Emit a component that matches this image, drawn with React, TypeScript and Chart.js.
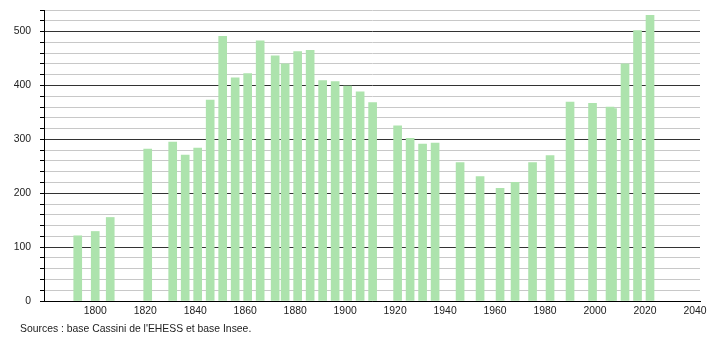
import React, { useEffect, useRef } from "react";
import { Chart, registerables } from "chart.js";

Chart.register(...registerables);

const years = [1793, 1800, 1806, 1821, 1831, 1836, 1841, 1846, 1851, 1856, 1861, 1866, 1872, 1876, 1881, 1886, 1891, 1896, 1901, 1906, 1911, 1921, 1926, 1931, 1936, 1946, 1954, 1962, 1968, 1975, 1982, 1990, 1999, 2006, 2007, 2012, 2017, 2022];
const population = [121, 129, 155, 282, 295, 271, 284, 373, 491, 414, 422, 483, 455, 440, 463, 465, 409, 407, 399, 388, 368, 325, 302, 291, 293, 257, 231, 209, 220, 257, 270, 369, 367, 360, 357, 440, 502, 530];
const xTickValues = [1800, 1820, 1840, 1860, 1880, 1900, 1920, 1940, 1960, 1980, 2000, 2020, 2040];
const yTickValues = [0, 20, 40, 60, 80, 100, 120, 140, 160, 180, 200, 220, 240, 260, 280, 300, 320, 340, 360, 380, 400, 420, 440, 460, 480, 500, 520, 540];
const sourceText = "Sources : base Cassini de l'EHESS et base Insee.";

const FONT = "'Liberation Sans', Arial, sans-serif";

export default function App() {
  const canvasRef = useRef<HTMLCanvasElement | null>(null);

  useEffect(() => {
    if (!canvasRef.current) return;
    const chart = new Chart(canvasRef.current, {
      type: "bar",
      data: {
        datasets: [
          {
            data: years.map((yr, i) => ({ x: yr, y: population[i] })),
            backgroundColor: "#ade3ad",
            borderWidth: 0,
            barThickness: 8,
          } as any,
        ],
      },
      options: {
        animation: false,
        responsive: true,
        maintainAspectRatio: false,
        layout: { padding: { top: 10, right: 10, bottom: 0, left: 0 } },
        plugins: {
          legend: { display: false },
          tooltip: { enabled: false },
          title: { display: false },
        },
        scales: {
          x: {
            type: "linear",
            min: 1779.5,
            max: 2042,
            offset: false,
            grid: { display: false, drawTicks: false, offset: false },
            border: { display: true, color: "#000", width: 1 },
            afterBuildTicks: (scale: any) => {
              scale.ticks = xTickValues.map((v) => ({ value: v }));
            },
            afterFit: (scale: any) => {
              scale.height = 39;
              scale.paddingLeft = 0;
              scale.paddingRight = 0;
            },
            ticks: {
              padding: 4,
              color: "#222",
              font: { family: FONT, size: 10.4 },
              maxRotation: 0,
              autoSkip: false,
              callback: (v: any) => String(v),
            },
          },
          y: {
            type: "linear",
            min: 0,
            max: 540,
            grid: {
              color: (ctx: any) =>
                ctx.tick && ctx.tick.value % 100 === 0 ? "#333" : "#c8c8c8",
              tickColor: "#000",
              tickLength: 4,
              drawTicks: true,
              lineWidth: 1,
            },
            border: { display: true, color: "#000", width: 1 },
            afterBuildTicks: (scale: any) => {
              scale.ticks = yTickValues.map((v) => ({ value: v }));
            },
            afterFit: (scale: any) => {
              scale.width = 44;
              scale.paddingTop = 0;
              scale.paddingBottom = 0;
            },
            ticks: {
              padding: 9,
              color: "#222",
              font: { family: FONT, size: 10.4 },
              autoSkip: false,
              callback: (v: any) => (Number(v) % 100 === 0 && Number(v) <= 500 ? String(v) : ""),
            },
          },
        },
      } as any,
    });
    return () => chart.destroy();
  }, []);

  return (
    <div
      style={{
        position: "fixed",
        left: 0,
        top: 0,
        width: 710,
        height: 340,
        background: "#fff",
      }}
    >
      <canvas ref={canvasRef} />
      <div
        style={{
          position: "absolute",
          left: 20,
          top: 323,
          fontFamily: FONT,
          fontSize: 10.4,
          color: "#222",
          whiteSpace: "nowrap",
          lineHeight: "12px",
        }}
      >
        {sourceText}
      </div>
    </div>
  );
}
